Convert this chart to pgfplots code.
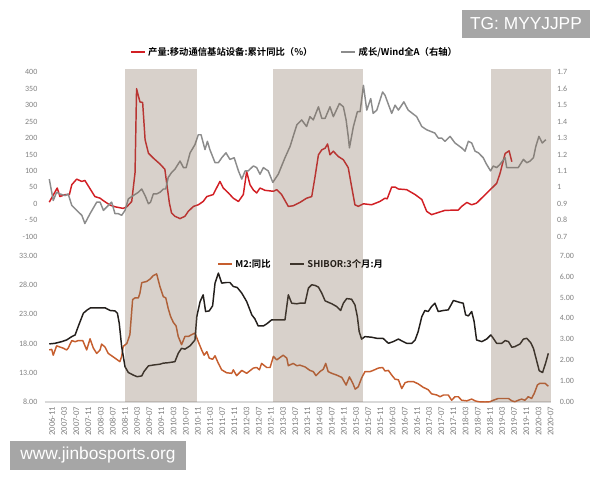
\documentclass[border=0pt]{standalone}
\usepackage{pgfplots}
\pgfplotsset{compat=1.18}
\usepackage{fontspec}
\setmainfont{Carlito}
\newfontfamily\cjk{Noto Sans CJK SC}[BoldFont={Noto Sans CJK SC Bold}]
\newfontfamily\wm{Liberation Sans}
\definecolor{cred}{HTML}{D21F24}
\definecolor{cgray}{HTML}{8C8C8C}
\definecolor{cm2}{HTML}{C65E2E}
\definecolor{cshibor}{HTML}{231F1C}
\definecolor{shade}{RGB}{125,104,84}
\definecolor{tickgray}{HTML}{808080}
\definecolor{axisgray}{HTML}{D9D9D9}
\definecolor{wmgray}{HTML}{A6A6A6}
\pgfplotsset{
 base/.style={scale only axis, width=379.75pt, xmin=-1.5, xmax=165, enlargelimits=false,
   axis line style={draw=none}, major tick length=0pt, xtick=\empty,
   ticklabel style={font=\fontsize{6}{7}\selectfont, text=tickgray},
   anchor=south west,
   every axis plot/.append style={line width=1.1pt, line join=round},
   legend style={draw=none, fill=none, font=\cjk\bfseries\fontsize{7}{8}\selectfont, inner sep=0pt},
   legend image code/.code={\draw[#1] (0pt,0pt) -- (10.5pt,0pt);},
   legend cell align=left},
}
\begin{document}
\begin{tikzpicture}
\path[use as bounding box] (0,0) rectangle (450pt,360pt);
% top left: red
\begin{axis}[base, at={(33.55pt,182.5pt)}, height=123.3pt, ymin=-100, ymax=400,
  ytick={-100,-50,0,50,100,150,200,250,300,350,400},
  yticklabels={-100,- 50,0,50,100,150,200,250,300,350,400},
  yticklabel style={xshift=-2pt}]
\addplot[cred] coordinates {
(0,5) (2.6,48) (3.5,22) (5.2,28) (6.6,28) (7.4,58) (9.0,75) (10.7,68) (11.7,71)
(15.0,22) (16.7,17) (17.7,10) (20.0,-4) (21.6,-9) (24.3,-14) (25.5,-9) (27.1,7)
(28.2,95) (28.7,350) (29.8,310) (30.7,308) (31.5,195) (32.6,154) (34.2,139) (36.4,121)
(38.0,105) (38.6,63) (39.5,2) (40.2,-28) (41.3,-38) (43.0,-45) (44.6,-38) (45.7,-23)
(47.4,-8) (49.0,-3) (50.6,7) (51.8,22) (53.9,28) (55.0,48) (56.1,68) (57.2,48)
(58.9,33) (60.5,17) (62.2,7) (63.8,28) (64.9,98) (66.0,58) (67.1,42) (68.2,33)
(69.3,48) (70.9,41) (73.7,38) (74.8,43) (76.4,28) (78.6,-8) (80.2,-6) (82.4,4)
(84.6,17) (86.3,22) (87.4,83) (88.5,149) (89.6,164) (90.7,169) (91.5,182) (92.3,149)
(93.4,160) (94.5,149) (95.0,144) (96.7,134) (98.3,110) (99.4,53) (100.5,-3) (101.6,-8)
(103.3,0) (106.0,-3) (108.7,7) (110.4,17) (111.1,15) (112.6,51) (113.7,51) (114.8,45)
(117.5,43) (120.3,28) (122.5,13) (124.1,-23) (125.7,-33) (127.4,-28) (130.1,-20)
(134.5,-19) (135.6,-8) (137.3,4) (138.9,-3) (140.5,2) (142.7,22) (144.9,42) (147.1,62)
(148.2,92) (149.9,153) (151.2,161) (152.1,128)
};
\end{axis}
% top right: gray
\begin{axis}[base, at={(33.55pt,182.5pt)}, height=123.3pt, ymin=0.7, ymax=1.7,
  ytick={0.7,0.8,0.9,1.0,1.1,1.2,1.3,1.4,1.5,1.6,1.7},
  yticklabels={0.7,0.8,0.9,1,1.1,1.2,1.3,1.4,1.5,1.6,1.7},
  yticklabel pos=right, yticklabel style={anchor=west, xshift=1pt},
  legend columns=2, legend style={at={(0.494,1.123)}, anchor=center},
  /tikz/every even column/.append style={column sep=19pt}]
\addlegendimage{cred, line width=1.1pt}
\addlegendentry{产量:移动通信基站设备:累计同比（\%）}
\addplot[cgray] coordinates {
(0,1.05) (1.3,0.92) (2.4,0.97) (3.5,0.96) (5.2,0.95) (6.2,0.96) (7.4,0.89) (9.0,0.86)
(10.7,0.83) (11.7,0.78) (13.4,0.84) (15.6,0.91) (16.7,0.91) (17.8,0.86) (19.4,0.89)
(20.5,0.91) (21.6,0.84) (22.7,0.84) (23.8,0.83) (24.9,0.86) (26.0,0.93) (27.6,0.95)
(29.3,0.97) (30.4,0.99) (31.5,0.95) (32.6,0.90) (33.3,0.91) (34.2,0.96) (35.3,0.96)
(36.4,0.97) (37.5,0.99) (38.3,0.99) (39.1,1.06) (40.2,1.09) (41.3,1.11) (43.0,1.16)
(44.1,1.12) (45.0,1.12) (46.3,1.21) (47.9,1.26) (49.0,1.32) (49.9,1.32) (51.2,1.23)
(52.0,1.28) (52.8,1.23) (54.5,1.15) (55.6,1.15) (56.7,1.18) (58.1,1.21) (59.4,1.17)
(60.8,1.18) (62.2,1.10) (63.3,1.05) (64.4,1.10) (65.4,1.10) (67.1,1.13) (68.2,1.12)
(69.3,1.08) (70.4,1.12) (72.0,1.10) (73.5,1.03) (75.3,1.08) (77.5,1.18) (79.2,1.25)
(80.2,1.31) (81.4,1.38) (83.0,1.41) (84.6,1.37) (85.7,1.43) (86.8,1.41) (88.5,1.49)
(89.6,1.42) (90.7,1.42) (92.3,1.49) (93.4,1.43) (95.4,1.51) (96.7,1.49) (97.6,1.41)
(98.3,1.31) (98.7,1.24) (100.0,1.37) (101.3,1.46) (102.2,1.46) (103.3,1.62) (104.4,1.47)
(105.7,1.54) (106.5,1.45) (107.7,1.47) (109.6,1.58) (110.4,1.56) (112.6,1.45) (113.7,1.50)
(114.8,1.47) (116.6,1.52) (118.0,1.47) (120.8,1.43) (122.5,1.37) (124.1,1.35) (126.8,1.33)
(127.9,1.30) (129.0,1.30) (130.1,1.28) (131.8,1.31) (133.4,1.27) (135.6,1.24) (136.7,1.22)
(137.8,1.28) (138.9,1.27) (140.0,1.22) (141.1,1.21) (142.7,1.18) (143.8,1.14) (145.1,1.10)
(146.0,1.13) (147.1,1.12) (148.2,1.14) (149.9,1.18) (150.4,1.12) (151.5,1.12) (153.1,1.12)
(154.2,1.12) (155.9,1.17) (157.0,1.15) (158.1,1.16) (159.2,1.18) (160.0,1.25) (161.0,1.31)
(162.1,1.27) (163.3,1.29)
};
\addlegendentry{成长/Wind全A（右轴）}
\end{axis}
% bottom left: M2
\begin{axis}[base, at={(33.55pt,58.5pt)}, height=109.7pt, ymin=8, ymax=33,
  ytick={8,13,18,23,28,33},
  yticklabels={8.00,13.00,18.00,23.00,28.00,33.00},
  yticklabel style={xshift=-2pt},
  xtick={0,4,...,164},
  xticklabels={2006-11,2007-03,2007-07,2007-11,2008-03,2008-07,2008-11,2009-03,2009-07,2009-11,2010-03,2010-07,2010-11,2011-03,2011-07,2011-11,2012-03,2012-07,2012-11,2013-03,2013-07,2013-11,2014-03,2014-07,2014-11,2015-03,2015-07,2015-11,2016-03,2016-07,2016-11,2017-03,2017-07,2017-11,2018-03,2018-07,2018-11,2019-03,2019-07,2019-11,2020-03,2020-07},
  xticklabel style={rotate=90, anchor=east, font=\fontsize{6.5}{7}\selectfont, xshift=0pt, yshift=-2pt},
  axis x line*=bottom, axis y line*=left,
  x axis line style={draw=axisgray, -, line width=0.8pt}, y axis line style={draw=none}]
\addplot[cm2] coordinates {
(0,16.9) (0.8,17.0) (1.3,16.0) (2.4,17.6) (3.5,17.4) (4.6,17.2) (5.7,16.9) (6.2,17.2)
(7.4,18.5) (8.5,18.3) (9.5,18.5) (11.0,18.5) (12.3,16.9) (13.4,18.8) (14.5,17.2) (15.6,16.3)
(16.7,16.9) (17.2,17.9) (18.3,17.4) (19.4,16.3) (20.5,15.9) (21.6,15.5) (23.2,14.9) (23.8,15.8)
(24.3,17.5) (25.5,18.0) (26.5,19.5) (27.4,25.5) (28.2,25.8) (29.3,25.8) (29.8,26.6) (30.4,28.4)
(32.0,28.6) (33.1,29.0) (34.2,29.6) (35.3,29.9) (36.4,27.7) (37.5,26.0) (38.3,25.8) (39.1,24.0)
(39.9,22.6) (40.8,21.6) (41.7,21.0) (42.4,19.2) (43.5,17.8) (44.6,19.2) (45.7,19.2) (46.8,19.5)
(47.9,19.8) (49.0,18.3) (50.1,16.9) (50.9,16.0) (51.8,16.6) (52.6,15.5) (53.7,15.3) (54.5,15.9)
(55.6,14.6) (56.7,13.5) (58.3,13.0) (60.0,12.9) (60.5,13.5) (61.6,12.5) (63.3,13.4) (64.9,12.9)
(67.1,13.8) (68.2,13.9) (69.1,13.5) (69.8,14.6) (71.5,13.9) (72.6,13.9) (73.7,15.8) (74.8,15.2)
(76.9,16.0) (78.1,15.5) (78.6,14.2) (80.2,14.6) (81.4,14.2) (82.4,14.3) (84.1,14.0) (85.7,13.4)
(86.8,13.2) (87.7,12.5) (89.0,13.2) (90.1,13.6) (90.9,14.6) (91.7,13.2) (92.9,12.9) (94.5,12.6)
(96.2,12.2) (97.6,10.9) (98.7,12.3) (99.8,11.2) (100.6,10.2) (101.6,10.6) (102.7,12.1) (103.8,13.2)
(105.5,13.2) (106.5,13.4) (108.2,13.8) (109.6,13.9) (110.4,13.3) (111.5,13.4) (112.6,12.6) (113.7,11.9)
(114.8,11.8) (115.9,10.3) (117.0,11.3) (118.1,11.5) (119.7,11.5) (121.3,11.1) (123.0,10.5) (124.6,10.1)
(125.7,9.4) (127.4,9.2) (128.5,8.9) (129.6,9.2) (131.2,9.2) (132.3,8.3) (133.4,8.9) (134.5,8.9)
(135.6,8.3) (137.3,8.2) (138.9,8.5) (140.0,8.2) (141.1,8.05) (143.3,8.0) (144.9,8.05) (146.0,8.3)
(147.6,8.6) (149.3,8.6) (151.0,8.6) (152.1,8.2) (153.1,8.05) (154.2,8.3) (155.3,8.5) (156.4,8.3)
(157.5,8.9) (158.6,8.6) (159.5,9.5) (160.5,10.9) (161.3,11.2) (163.0,11.2) (164.1,10.7)
};
\end{axis}
% bottom right: SHIBOR
\begin{axis}[base, at={(33.55pt,58.5pt)}, height=109.7pt, ymin=0, ymax=7,
  ytick={0,1,2,3,4,5,6,7},
  yticklabels={0.00,1.00,2.00,3.00,4.00,5.00,6.00,7.00},
  yticklabel pos=right, yticklabel style={anchor=west, xshift=3pt},
  legend columns=2, legend style={at={(0.507,0.943)}, anchor=center},
  /tikz/every even column/.append style={column sep=12pt}]
\addlegendimage{cm2, line width=1.1pt}
\addlegendentry{M2:同比}
\addplot[cshibor] coordinates {
(0,2.78) (1.9,2.81) (4.1,2.89) (5.7,2.97) (7.4,3.13) (8.5,3.21) (9.5,3.61) (11.2,4.25)
(12.5,4.41) (13.6,4.51) (15.6,4.51) (18.3,4.51) (20.0,4.38) (21.6,4.36) (22.4,4.25) (23.0,3.77)
(23.8,2.65) (24.9,1.69) (26.0,1.41) (27.6,1.29) (28.9,1.21) (30.4,1.25) (31.1,1.45) (32.6,1.73)
(34.2,1.77) (36.4,1.81) (37.5,1.86) (39.1,1.88) (41.3,1.93) (42.4,2.33) (43.5,2.57) (44.6,2.53)
(46.3,2.69) (47.9,2.97) (48.5,4.09) (49.6,4.81) (50.6,5.13) (51.4,4.33) (52.6,4.36) (53.7,4.60)
(54.5,5.69) (55.6,6.17) (56.7,5.69) (58.3,5.72) (59.4,5.72) (60.5,5.53) (61.8,5.48) (63.3,5.21)
(64.9,4.81) (66.6,4.17) (67.6,3.98) (68.7,3.64) (70.4,3.64) (71.5,3.74) (73.1,3.93) (77.5,3.93)
(78.6,5.13) (79.7,4.73) (81.4,4.70) (82.4,4.73) (84.1,4.73) (85.2,5.45) (86.3,5.61) (87.4,5.58)
(88.5,5.50) (89.6,5.21) (90.7,4.84) (92.9,4.70) (94.5,4.57) (95.8,4.38) (96.7,4.73) (97.8,4.95)
(99.4,4.92) (100.5,4.65) (101.3,4.09) (101.9,3.37) (102.7,3.01) (103.8,3.13) (106.0,3.10) (107.7,3.05)
(109.8,3.04) (111.5,2.81) (113.1,2.89) (114.8,3.01) (116.4,2.89) (117.5,2.81) (119.2,2.81) (120.3,2.97)
(121.3,3.37) (122.5,4.09) (123.5,4.38) (124.6,4.33) (125.7,4.57) (126.8,4.73) (127.9,4.33) (129.6,4.38)
(131.2,4.41) (132.9,4.86) (134.0,4.81) (135.1,4.76) (136.1,4.73) (136.9,4.17) (137.8,4.12) (138.9,4.33)
(139.7,3.85) (140.5,2.97) (142.2,2.89) (143.8,3.01) (145.2,3.21) (146.0,3.05) (147.1,2.81) (148.8,2.81)
(149.9,2.94) (151.0,2.89) (152.1,2.62) (153.1,2.65) (154.8,2.78) (155.9,3.01) (157.0,3.05) (158.3,2.84)
(159.2,2.57) (160.2,2.01) (161.1,1.50) (162.2,1.41) (163.2,1.86) (164.1,2.33)
};
\addlegendentry{SHIBOR:3个月:月}
\end{axis}
% shading overlay
\begin{axis}[base, at={(33.55pt,58.5pt)}, height=249.75pt, ymin=0, ymax=1, hide axis]
\addplot[draw=none, fill=shade, fill opacity=0.3] coordinates {(24.9,1) (48.5,1)} \closedcycle;
\addplot[draw=none, fill=shade, fill opacity=0.3] coordinates {(73.5,1) (103.3,1)} \closedcycle;
\addplot[draw=none, fill=shade, fill opacity=0.3] coordinates {(145.2,1) (165,1)} \closedcycle;
\end{axis}
% watermarks
\node[fill=wmgray, text=white, font=\wm\fontsize{13}{15}\selectfont, minimum width=96pt, minimum height=21pt, inner sep=0pt] at (394.5pt,342pt) {TG: MYYJJPP};
\node[fill=wmgray, text=white, font=\wm\fontsize{13}{15}\selectfont, minimum width=132pt, minimum height=21.75pt, inner sep=0pt] at (73.5pt,18.75pt) {www.jinbosports.org};
\end{tikzpicture}
\end{document}
